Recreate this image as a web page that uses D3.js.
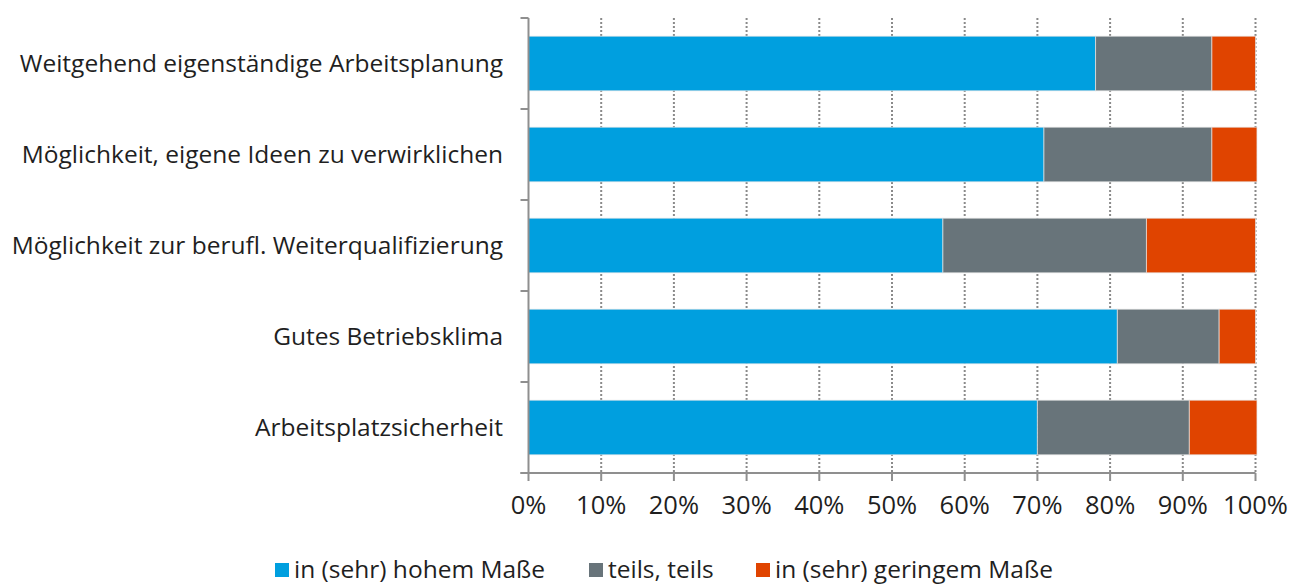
<!DOCTYPE html>
<html><head><meta charset="utf-8">
<script src="https://cdn.jsdelivr.net/npm/d3@7"></script>
<style>body{margin:0;background:#fff}svg{display:block}text{font-family:"Open Sans",sans-serif;fill:#1f1f1f}</style>
</head><body>
<svg id="c" width="1306" height="584"></svg>
<script>
const categories = ["Weitgehend eigenständige Arbeitsplanung","Möglichkeit, eigene Ideen zu verwirklichen","Möglichkeit zur berufl. Weiterqualifizierung","Gutes Betriebsklima","Arbeitsplatzsicherheit"];
const seriesNames = ["in (sehr) hohem Maße","teils, teils","in (sehr) geringem Maße"];
const hoch = [78, 70.9, 57, 81, 70];
const teils = [16, 23.1, 28, 14, 20.9];
const gering = [6, 6.2, 15, 5, 9.3];
const colors = ["#009FDF","#68747A","#E04400"];
const tickValues = [0,10,20,30,40,50,60,70,80,90,100];

const svg = d3.select("#c");
const x = d3.scaleLinear().domain([0,100]).range([528.5,1255.5]);
const y = d3.scaleBand().domain(categories).range([18,473]).paddingInner(0.4).paddingOuter(0.2);

const rows = categories.map((c,i)=>({cat:c, vals:[hoch[i],teils[i],gering[i]]}));
const stack = d3.stack().keys([0,1,2]).value((d,k)=>d.vals[k]);
const series = stack(rows);

// gridlines
svg.append("g").selectAll("line").data(tickValues.slice(1)).join("line")
  .attr("x1",d=>x(d)).attr("x2",d=>x(d)).attr("y1",18).attr("y2",473)
  .attr("stroke","#8a8a8a").attr("stroke-width",2).attr("stroke-dasharray","2,2");

// bars
svg.append("g").selectAll("g").data(series).join("g").attr("fill",(d,i)=>colors[i])
  .selectAll("rect").data(d=>d).join("rect")
  .attr("x",d=>x(d[0])).attr("width",d=>x(d[1])-x(d[0]))
  .attr("y",d=>y(d.data.cat)).attr("height",y.bandwidth())
  .attr("stroke","rgba(230,230,230,0.7)").attr("stroke-width",1);

// y axis
const step = y.step();
const yEdges = d3.range(categories.length+1).map(i=>18+i*step);
const ax = svg.append("g").attr("stroke","#8f8f8f").attr("stroke-width",2);
ax.append("line").attr("x1",x(0)).attr("x2",x(0)).attr("y1",18).attr("y2",473);
ax.selectAll(".yt").data(yEdges).join("line").attr("class","yt")
  .attr("x1",x(0)-8).attr("x2",x(0)).attr("y1",d=>d).attr("y2",d=>d);
// x axis
ax.append("line").attr("x1",x(0)-8).attr("x2",x(100)).attr("y1",473).attr("y2",473);
ax.selectAll(".xt").data(tickValues).join("line").attr("class","xt")
  .attr("x1",d=>x(d)).attr("x2",d=>x(d)).attr("y1",473).attr("y2",481);

// x tick labels
svg.append("g").selectAll("text").data(tickValues).join("text")
  .attr("x",d=>x(d)).attr("y",514).attr("text-anchor","middle")
  .style("font-size","25.5px").text(d=>d+"%");

// category labels
svg.append("g").selectAll("text").data(categories).join("text")
  .attr("x",503).attr("y",d=>y(d)+y.bandwidth()/2).attr("dy","0.35em")
  .attr("text-anchor","end").style("font-size","24.5px").text(d=>d);

// legend
const legX = [275, 589, 756];
const lg = svg.append("g").selectAll("g").data(seriesNames).join("g")
  .attr("transform",(d,i)=>`translate(${legX[i]},563)`);
lg.append("rect").attr("width",14).attr("height",14).attr("fill",(d,i)=>colors[i]);
lg.append("text").attr("x",19).attr("y",14.5).style("font-size","24.5px").text(d=>d);
</script>
</body></html>
